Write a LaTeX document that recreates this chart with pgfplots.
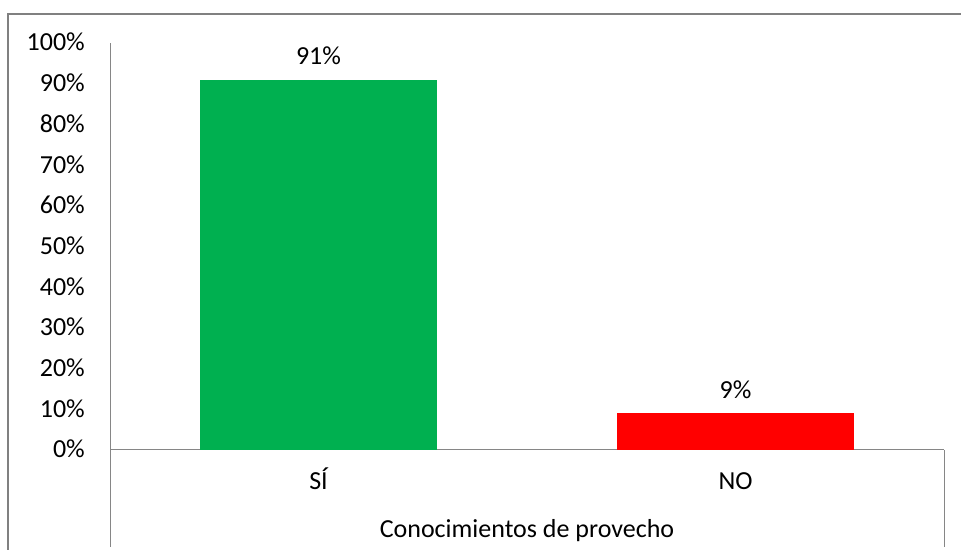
\documentclass[border=0pt]{standalone}
\usepackage{pgfplots}
\pgfplotsset{compat=1.18}
\usepackage{fontspec}
\setmainfont{Carlito}
\definecolor{bargreen}{HTML}{00B050}
\definecolor{barred}{HTML}{FF0000}
\definecolor{axgray}{HTML}{868686}
\definecolor{framegray}{HTML}{808080}
\begin{document}
\begin{tikzpicture}[x=1bp,y=1bp]
\path[use as bounding box] (0,0) rectangle (961,550);
\draw[framegray, line width=2bp] (8,-5) -- (8,536) -- (970,536);
\begin{axis}[
  at={(110bp,100bp)}, anchor=south west,
  scale only axis, width=834bp, height=407bp,
  xmin=0, xmax=2, ymin=0, ymax=100,
  axis lines*=left,
  axis line style={axgray, line width=1bp},
  major tick length=0pt,
  /pgf/number format/assume math mode=true,
  font=\fontsize{26bp}{31bp}\selectfont,
  ytick={0,10,20,30,40,50,60,70,80,90,100},
  yticklabels={0\%,10\%,20\%,30\%,40\%,50\%,60\%,70\%,80\%,90\%,100\%},
  yticklabel style={anchor=base east, inner sep=0pt, xshift=-25bp, yshift=-8bp},
  xtick={0.5,1.5},
  xticklabels={SÍ,NO},
  xticklabel style={anchor=base, inner sep=0pt, yshift=-40bp},
  xlabel={Conocimientos de provecho},
  xlabel style={at={(axis description cs:0.5,0)}, anchor=base, inner sep=0pt, yshift=-88bp},
  ybar, bar width=237bp, bar shift=0pt,
  nodes near coords={\pgfmathprintnumber{\pgfplotspointmeta}\%},
  nodes near coords style={anchor=base, inner sep=0pt, yshift=15bp, text=black},
  clip=false,
]
\addplot[draw=none, fill=bargreen] coordinates {(0.5,91)};
\addplot[draw=none, fill=barred] coordinates {(1.5,9)};
\draw[axgray, line width=1bp] (rel axis cs:0,0) -- ++(0,-97bp);
\draw[axgray, line width=1bp] (rel axis cs:1,0) -- ++(0,-97bp);
\end{axis}
\end{tikzpicture}
\end{document}
